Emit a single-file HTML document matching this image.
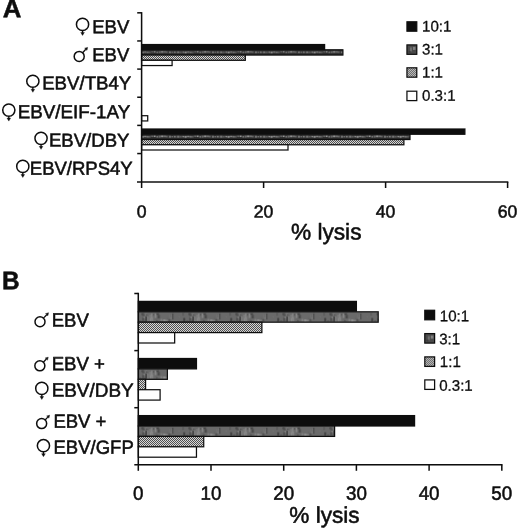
<!DOCTYPE html>
<html lang="en"><head><meta charset="utf-8"><title>Figure: % lysis of EBV targets</title>
<style>html,body{margin:0;padding:0;background:#fff}body{width:520px;height:530px;overflow:hidden}svg{display:block}text{font-family:"Liberation Sans", "DejaVu Sans", sans-serif;fill:#111;stroke:#111;stroke-width:0.55;stroke-linejoin:round}text.lg{stroke-width:0.30}.ax{stroke:#0c0c0c;stroke-width:1.5;fill:none}.bar{stroke:#111;stroke-width:1.25}</style>
</head><body>
<svg width="520" height="530" viewBox="0 0 520 530" role="img" aria-label="Bar charts of percent lysis, panels A and B">
<defs>
<pattern id="p3" width="47" height="10.4" patternUnits="userSpaceOnUse"><rect width="47" height="10.4" fill="#6a6a6a"/><rect x="14.7" y="1.8" width="1" height="1.9" fill="#4b4b4b"/><rect x="26.5" y="8.1" width="1" height="1.7" fill="#6e6e6e"/><rect x="3.2" y="1.3" width="2" height="1.8" fill="#474747"/><rect x="28.7" y="5.4" width="1" height="4.5" fill="#626262"/><rect x="44.4" y="0.9" width="1" height="3.1" fill="#515151"/><rect x="5.4" y="3.1" width="1" height="2.1" fill="#4b4b4b"/><rect x="4.4" y="6.5" width="1" height="3.4" fill="#727272"/><rect x="19.5" y="3.1" width="2" height="3.5" fill="#454545"/><rect x="31.8" y="2.6" width="1.5" height="4.4" fill="#909090"/><rect x="13.1" y="8.7" width="1" height="1.2" fill="#4a4a4a"/><rect x="6.9" y="4.6" width="1" height="5.3" fill="#515151"/><rect x="26.1" y="7.9" width="1.5" height="2.0" fill="#959595"/><rect x="22.6" y="7.2" width="1" height="2.7" fill="#919191"/><rect x="31.7" y="1.0" width="1.5" height="5.1" fill="#6a6a6a"/><rect x="32.6" y="8.0" width="1.5" height="1.6" fill="#6c6c6c"/><rect x="7.6" y="1.5" width="1" height="2.7" fill="#868686"/><rect x="33.6" y="3.8" width="2" height="1.9" fill="#6d6d6d"/><rect x="25.0" y="7.9" width="2" height="2.0" fill="#8f8f8f"/><rect x="44.9" y="6.2" width="2" height="3.7" fill="#424242"/><rect x="8.0" y="2.4" width="1" height="1.6" fill="#484848"/><rect x="12.8" y="1.7" width="1.5" height="4.9" fill="#868686"/><rect x="31.4" y="4.8" width="1" height="4.0" fill="#6d6d6d"/><rect x="18.2" y="1.4" width="2" height="1.8" fill="#464646"/><rect x="20.0" y="1.4" width="1" height="2.1" fill="#515151"/><rect x="4.6" y="3.6" width="1" height="1.9" fill="#535353"/><rect x="17.1" y="5.8" width="1.5" height="4.1" fill="#646464"/><rect x="5.2" y="4.6" width="2" height="4.1" fill="#848484"/><rect x="6.6" y="6.8" width="1.5" height="3.1" fill="#505050"/><rect x="1.1" y="8.5" width="1.5" height="1.4" fill="#505050"/><rect x="13.6" y="5.9" width="1" height="4.0" fill="#929292"/><rect x="16.7" y="1.9" width="1" height="4.4" fill="#969696"/><rect x="10.1" y="7.3" width="1" height="2.6" fill="#686868"/><rect x="9.1" y="4.6" width="1" height="5.3" fill="#919191"/><rect x="11.8" y="6.3" width="1.5" height="3.6" fill="#8d8d8d"/><rect x="3.7" y="1.4" width="2" height="2.6" fill="#4f4f4f"/><rect x="28.4" y="8.1" width="1" height="1.8" fill="#969696"/><rect x="3.9" y="6.0" width="2" height="3.9" fill="#4f4f4f"/><rect x="40.5" y="4.1" width="1.5" height="2.0" fill="#6f6f6f"/><rect x="18.3" y="8.5" width="1" height="1.4" fill="#404040"/><rect x="6.9" y="8.1" width="1" height="1.8" fill="#6c6c6c"/><rect x="7.1" y="5.1" width="1" height="1.6" fill="#505050"/><rect x="34.1" y="1.7" width="1" height="6.0" fill="#404040"/><rect x="11.5" y="3.0" width="1" height="5.7" fill="#8a8a8a"/><rect x="24.8" y="7.5" width="1" height="2.4" fill="#909090"/><rect x="30.1" y="7.3" width="2" height="2.6" fill="#515151"/><rect x="6.9" y="4.8" width="2" height="5.1" fill="#444444"/></pattern>
<pattern id="p3s" width="43" height="5.25" patternUnits="userSpaceOnUse"><rect width="43" height="5.25" fill="#2c2c2c"/><rect x="0.3" y="1.7" width="1.4" height="1.9" fill="#b0b0b0"/><rect x="2.5" y="1.6" width="2" height="1.3" fill="#9c9c9c"/><rect x="5.3" y="1.7" width="1.4" height="1.6" fill="#929292"/><rect x="7.5" y="1.7" width="1.1" height="1.6" fill="#888888"/><rect x="9.9" y="1.4" width="1.1" height="1.3" fill="#929292"/><rect x="12.0" y="1.4" width="2" height="1.3" fill="#9c9c9c"/><rect x="15.0" y="1.7" width="1.1" height="1.6" fill="#9c9c9c"/><rect x="17.4" y="1.4" width="1.1" height="1.9" fill="#9c9c9c"/><rect x="19.5" y="1.3" width="2" height="1.6" fill="#b0b0b0"/><rect x="22.5" y="1.3" width="1.1" height="1.6" fill="#b0b0b0"/><rect x="24.4" y="1.5" width="1.4" height="1.6" fill="#888888"/><rect x="27.6" y="1.5" width="1.4" height="1.9" fill="#9c9c9c"/><rect x="30.0" y="1.8" width="0.9" height="1.3" fill="#b0b0b0"/><rect x="32.2" y="1.6" width="2" height="1.6" fill="#888888"/><rect x="35.5" y="1.5" width="2" height="1.9" fill="#888888"/><rect x="38.5" y="1.7" width="1.1" height="1.6" fill="#888888"/><rect x="40.9" y="1.7" width="1.4" height="1.3" fill="#b0b0b0"/></pattern>
<pattern id="p3l" width="10" height="10" patternUnits="userSpaceOnUse"><rect width="10" height="10" fill="#4a4a4a"/><rect x="3" y="2.5" width="2" height="4" fill="#6e6e6e"/><rect x="6" y="2" width="2.5" height="3" fill="#808080"/><rect x="1.5" y="6" width="2" height="2" fill="#3a3a3a"/></pattern>
<pattern id="p1" width="2" height="2" patternUnits="userSpaceOnUse"><rect width="2" height="2" fill="#d6d6d6"/><rect x="0" y="0" width="1" height="1" fill="#505050"/><rect x="1" y="1" width="1" height="1" fill="#505050"/></pattern>
<filter id="soft" x="0" y="0" width="520" height="530" filterUnits="userSpaceOnUse"><feGaussianBlur stdDeviation="0.35"/></filter>
</defs>
<rect width="520" height="530" fill="#fff"/>
<g filter="url(#soft)">
<text transform="translate(2.70 17.25) rotate(0.03) scale(1.016 1.000)" font-size="25.40" font-weight="bold">A</text>
<rect class="bar" x="141.60" y="44.55" width="183.00" height="5.25" fill="#0a0a0a"/>
<g transform="translate(141.60 49.80)"><rect class="bar" x="0" y="0" width="201.30" height="5.25" fill="url(#p3s)"/></g>
<rect class="bar" x="141.60" y="55.05" width="103.70" height="5.25" fill="url(#p1)"/>
<rect class="bar" x="141.60" y="60.30" width="30.50" height="5.25" fill="#fff"/>
<rect class="bar" x="141.60" y="115.70" width="6.10" height="5.25" fill="#fff"/>
<rect class="bar" x="141.60" y="129.00" width="323.30" height="5.25" fill="#0a0a0a"/>
<g transform="translate(141.60 134.25)"><rect class="bar" x="0" y="0" width="268.40" height="5.25" fill="url(#p3s)"/></g>
<rect class="bar" x="141.60" y="139.50" width="262.30" height="5.25" fill="url(#p1)"/>
<rect class="bar" x="141.60" y="144.75" width="146.40" height="5.25" fill="#fff"/>
<path class="ax" d="M141.60 12.10 V188.00"/>
<path class="ax" d="M137.20 12.80 H141.60"/>
<path class="ax" d="M137.20 40.95 H141.60"/>
<path class="ax" d="M137.20 69.10 H141.60"/>
<path class="ax" d="M137.20 97.25 H141.60"/>
<path class="ax" d="M137.20 125.40 H141.60"/>
<path class="ax" d="M137.20 153.55 H141.60"/>
<path class="ax" d="M137.00 182.00 H508.30"/>
<path class="ax" d="M263.60 182.00 V188.00"/>
<path class="ax" d="M385.60 182.00 V188.00"/>
<path class="ax" d="M507.60 182.00 V188.00"/>
<text transform="translate(141.60 217.60) rotate(0.03) scale(1.000 1.000)" font-size="17.60" text-anchor="middle">0</text>
<text transform="translate(263.60 217.60) rotate(0.03) scale(1.000 1.000)" font-size="17.60" text-anchor="middle">20</text>
<text transform="translate(385.60 217.60) rotate(0.03) scale(1.000 1.000)" font-size="17.60" text-anchor="middle">40</text>
<text transform="translate(507.60 217.60) rotate(0.03) scale(1.000 1.000)" font-size="17.60" text-anchor="middle">60</text>
<text transform="translate(290.90 239.40) rotate(0.03) scale(1.000 1.000)" font-size="22.70">% lysis</text>
<g transform="translate(406.95 21.80)"><rect class="bar" width="9.8" height="9.4" fill="#0a0a0a"/></g>
<text transform="translate(422.00 31.50) rotate(0.03) scale(1.000 1.010)" font-size="15.10" class="lg">10:1</text>
<g transform="translate(406.95 44.90)"><rect class="bar" width="9.8" height="9.4" fill="url(#p3l)"/></g>
<text transform="translate(422.00 54.50) rotate(0.03) scale(1.000 1.010)" font-size="15.10" class="lg">3:1</text>
<g transform="translate(406.95 67.80)"><rect class="bar" width="9.8" height="9.4" fill="url(#p1)"/></g>
<text transform="translate(422.00 77.50) rotate(0.03) scale(1.000 1.010)" font-size="15.10" class="lg">1:1</text>
<g transform="translate(406.95 91.20)"><rect class="bar" width="9.8" height="9.4" fill="#fff"/></g>
<text transform="translate(422.00 100.70) rotate(0.03) scale(1.000 1.010)" font-size="15.10" class="lg">0.3:1</text>
<text transform="translate(92.14 33.33) rotate(0.03) scale(1.000 1.010)" font-size="18.70" textLength="37.17" lengthAdjust="spacingAndGlyphs">EBV</text>
<g><title>♀</title><circle cx="82.55" cy="24.40" r="6.1" fill="none" stroke="#0c0c0c" stroke-width="1.5"/><path d="M82.55 30.50 v3" stroke="#111" stroke-width="1.3" fill="none"/><path d="M80.75 32.40 h3.6 l-1.8 3z" fill="#111" stroke="#111" stroke-width="0.4"/></g>
<text transform="translate(92.24 61.23) rotate(0.03) scale(1.000 1.010)" font-size="18.70" textLength="37.07" lengthAdjust="spacingAndGlyphs">EBV</text>
<g><title>♂</title><circle cx="79.20" cy="56.40" r="5.0" fill="none" stroke="#0c0c0c" stroke-width="1.5"/><path d="M82.61 52.74 L85.83 49.30" stroke="#111" stroke-width="1.3" fill="none"/><path d="M87.60 47.40 L86.92 50.32 L84.73 48.28 z" fill="#111" stroke="#111" stroke-width="0.5" stroke-linejoin="round"/></g>
<text transform="translate(42.14 89.52) rotate(0.03) scale(1.000 1.010)" font-size="18.70" textLength="89.19" lengthAdjust="spacingAndGlyphs">EBV/TB4Y</text>
<g><title>♀</title><circle cx="32.85" cy="81.25" r="6.1" fill="none" stroke="#0c0c0c" stroke-width="1.5"/><path d="M32.85 87.35 v3" stroke="#111" stroke-width="1.3" fill="none"/><path d="M31.05 89.25 h3.6 l-1.8 3z" fill="#111" stroke="#111" stroke-width="0.4"/></g>
<text transform="translate(17.74 118.22) rotate(0.03) scale(1.000 1.010)" font-size="18.70" textLength="112.49" lengthAdjust="spacingAndGlyphs">EBV/EIF-1AY</text>
<g><title>♀</title><circle cx="8.80" cy="110.10" r="6.1" fill="none" stroke="#0c0c0c" stroke-width="1.5"/><path d="M8.80 116.20 v3" stroke="#111" stroke-width="1.3" fill="none"/><path d="M7.00 118.10 h3.6 l-1.8 3z" fill="#111" stroke="#111" stroke-width="0.4"/></g>
<text transform="translate(48.94 146.62) rotate(0.03) scale(1.000 1.010)" font-size="18.70" textLength="80.49" lengthAdjust="spacingAndGlyphs">EBV/DBY</text>
<g><title>♀</title><circle cx="41.05" cy="138.35" r="6.1" fill="none" stroke="#0c0c0c" stroke-width="1.5"/><path d="M41.05 144.45 v3" stroke="#111" stroke-width="1.3" fill="none"/><path d="M39.25 146.35 h3.6 l-1.8 3z" fill="#111" stroke="#111" stroke-width="0.4"/></g>
<text transform="translate(29.79 174.82) rotate(0.03) scale(1.000 1.010)" font-size="18.70" textLength="102.94" lengthAdjust="spacingAndGlyphs">EBV/RPS4Y</text>
<g><title>♀</title><circle cx="22.80" cy="166.40" r="6.1" fill="none" stroke="#0c0c0c" stroke-width="1.5"/><path d="M22.80 172.50 v3" stroke="#111" stroke-width="1.3" fill="none"/><path d="M21.00 174.40 h3.6 l-1.8 3z" fill="#111" stroke="#111" stroke-width="0.4"/></g>
<text transform="translate(2.12 289.25) rotate(0.03) scale(0.960 1.000)" font-size="25.40" font-weight="bold">B</text>
<rect class="bar" x="138.30" y="301.40" width="218.10" height="10.40" fill="#0a0a0a"/>
<g transform="translate(138.30 311.80)"><rect class="bar" x="0" y="0" width="239.91" height="10.40" fill="url(#p3)"/></g>
<rect class="bar" x="138.30" y="322.20" width="123.59" height="10.40" fill="url(#p1)"/>
<rect class="bar" x="138.30" y="332.60" width="36.35" height="10.40" fill="#fff"/>
<rect class="bar" x="138.30" y="358.50" width="58.16" height="10.40" fill="#0a0a0a"/>
<g transform="translate(138.30 368.90)"><rect class="bar" x="0" y="0" width="29.08" height="10.40" fill="url(#p3)"/></g>
<rect class="bar" x="138.30" y="379.30" width="7.27" height="10.40" fill="url(#p1)"/>
<rect class="bar" x="138.30" y="389.70" width="21.81" height="10.40" fill="#fff"/>
<rect class="bar" x="138.30" y="415.60" width="276.26" height="10.40" fill="#0a0a0a"/>
<g transform="translate(138.30 426.00)"><rect class="bar" x="0" y="0" width="196.29" height="10.40" fill="url(#p3)"/></g>
<rect class="bar" x="138.30" y="436.40" width="65.43" height="10.40" fill="url(#p1)"/>
<rect class="bar" x="138.30" y="446.80" width="58.16" height="10.40" fill="#fff"/>
<path class="ax" d="M138.30 292.80 V470.80"/>
<path class="ax" d="M134.30 293.50 H138.30"/>
<path class="ax" d="M134.30 350.60 H138.30"/>
<path class="ax" d="M134.30 407.70 H138.30"/>
<path class="ax" d="M134.30 464.80 H502.50"/>
<path class="ax" d="M211.00 464.80 V470.80"/>
<path class="ax" d="M283.70 464.80 V470.80"/>
<path class="ax" d="M356.40 464.80 V470.80"/>
<path class="ax" d="M429.10 464.80 V470.80"/>
<path class="ax" d="M501.80 464.80 V470.80"/>
<text transform="translate(138.30 499.70) rotate(0.03) scale(1.000 1.020)" font-size="18.80" text-anchor="middle">0</text>
<text transform="translate(211.00 499.70) rotate(0.03) scale(1.000 1.020)" font-size="18.80" text-anchor="middle">10</text>
<text transform="translate(283.70 499.70) rotate(0.03) scale(1.000 1.020)" font-size="18.80" text-anchor="middle">20</text>
<text transform="translate(356.40 499.70) rotate(0.03) scale(1.000 1.020)" font-size="18.80" text-anchor="middle">30</text>
<text transform="translate(429.10 499.70) rotate(0.03) scale(1.000 1.020)" font-size="18.80" text-anchor="middle">40</text>
<text transform="translate(501.80 499.70) rotate(0.03) scale(1.000 1.020)" font-size="18.80" text-anchor="middle">50</text>
<text transform="translate(289.30 522.80) rotate(0.03) scale(1.000 1.000)" font-size="22.60">% lysis</text>
<g transform="translate(424.8 310.30)"><rect class="bar" width="9.8" height="9.5" fill="#0a0a0a"/></g>
<text transform="translate(439.80 321.30) rotate(0.03) scale(1.000 1.010)" font-size="15.10" class="lg">10:1</text>
<g transform="translate(424.8 333.60)"><rect class="bar" width="9.8" height="9.5" fill="url(#p3l)"/></g>
<text transform="translate(439.20 344.20) rotate(0.03) scale(1.000 1.010)" font-size="15.10" class="lg">3:1</text>
<g transform="translate(424.8 356.90)"><rect class="bar" width="9.8" height="9.5" fill="url(#p1)"/></g>
<text transform="translate(439.80 366.90) rotate(0.03) scale(1.000 1.010)" font-size="15.10" class="lg">1:1</text>
<g transform="translate(424.8 379.90)"><rect class="bar" width="9.8" height="9.5" fill="#fff"/></g>
<text transform="translate(439.20 390.70) rotate(0.03) scale(1.000 1.010)" font-size="15.10" class="lg">0.3:1</text>
<text transform="translate(51.73 326.62) rotate(0.03) scale(1.000 1.010)" font-size="18.90" textLength="37.08" lengthAdjust="spacingAndGlyphs">EBV</text>
<g><title>♂</title><circle cx="40.00" cy="321.80" r="5.0" fill="none" stroke="#0c0c0c" stroke-width="1.5"/><path d="M43.43 318.16 L46.71 314.69" stroke="#111" stroke-width="1.3" fill="none"/><path d="M48.50 312.80 L47.81 315.72 L45.62 313.66 z" fill="#111" stroke="#111" stroke-width="0.5" stroke-linejoin="round"/></g>
<text transform="translate(51.63 370.23) rotate(0.03) scale(1.000 1.010)" font-size="18.90" textLength="53.33" lengthAdjust="spacingAndGlyphs">EBV +</text>
<g><title>♂</title><circle cx="39.85" cy="365.85" r="5.0" fill="none" stroke="#0c0c0c" stroke-width="1.5"/><path d="M43.32 362.25 L46.39 359.07" stroke="#111" stroke-width="1.3" fill="none"/><path d="M48.20 357.20 L47.47 360.11 L45.32 358.03 z" fill="#111" stroke="#111" stroke-width="0.5" stroke-linejoin="round"/></g>
<text transform="translate(51.63 396.62) rotate(0.03) scale(1.000 1.010)" font-size="18.90" textLength="82.02" lengthAdjust="spacingAndGlyphs">EBV/DBY</text>
<g><title>♀</title><circle cx="41.80" cy="388.40" r="6.1" fill="none" stroke="#0c0c0c" stroke-width="1.5"/><path d="M41.80 394.50 v3" stroke="#111" stroke-width="1.3" fill="none"/><path d="M40.00 396.40 h3.6 l-1.8 3z" fill="#111" stroke="#111" stroke-width="0.4"/></g>
<text transform="translate(53.38 427.73) rotate(0.03) scale(1.000 1.010)" font-size="18.90" textLength="53.08" lengthAdjust="spacingAndGlyphs">EBV +</text>
<g><title>♂</title><circle cx="41.65" cy="423.60" r="5.0" fill="none" stroke="#0c0c0c" stroke-width="1.5"/><path d="M45.09 419.97 L47.81 417.09" stroke="#111" stroke-width="1.3" fill="none"/><path d="M49.60 415.20 L48.90 418.12 L46.72 416.06 z" fill="#111" stroke="#111" stroke-width="0.5" stroke-linejoin="round"/></g>
<text transform="translate(53.53 453.73) rotate(0.03) scale(1.000 1.010)" font-size="18.90" textLength="80.20" lengthAdjust="spacingAndGlyphs">EBV/GFP</text>
<g><title>♀</title><circle cx="43.45" cy="445.70" r="6.1" fill="none" stroke="#0c0c0c" stroke-width="1.5"/><path d="M43.45 451.80 v3" stroke="#111" stroke-width="1.3" fill="none"/><path d="M41.65 453.70 h3.6 l-1.8 3z" fill="#111" stroke="#111" stroke-width="0.4"/></g>
</g>
</svg>
</body></html>
